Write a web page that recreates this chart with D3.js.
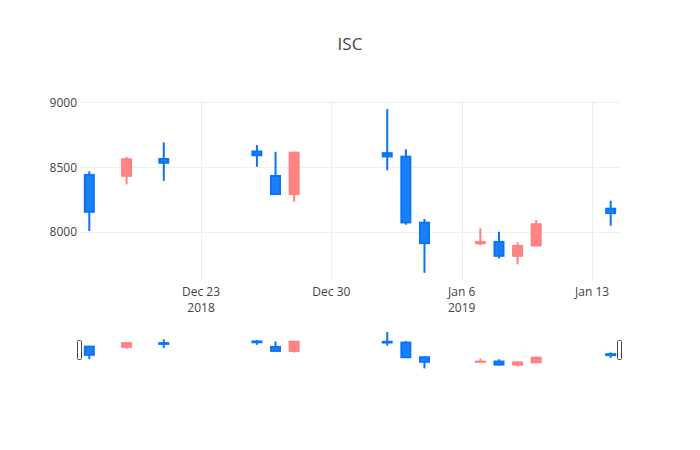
<!DOCTYPE html>
<html>
<head>
<meta charset="utf-8">
<script src="https://cdn.jsdelivr.net/npm/d3@7"></script>
<style>
  body { margin: 0; background: #fff; }
  svg { display: block; font-family: "Open Sans", sans-serif; }
</style>
</head>
<body>
<svg id="chart" width="700" height="450"></svg>
<script>
const title = "ISC";
const dates = ["2018-12-17","2018-12-19","2018-12-21","2018-12-26","2018-12-27","2018-12-28",
               "2019-01-02","2019-01-03","2019-01-04","2019-01-07","2019-01-08","2019-01-09",
               "2019-01-10","2019-01-14"];
const openV  = [8439, 8432, 8562, 8620, 8431, 8291, 8607, 8580, 8070, 7911, 7921, 7814, 7894, 8178];
const highV  = [8467, 8578, 8690, 8670, 8618, 8618, 8948, 8637, 8098, 8026, 8000, 7918, 8090, 8240];
const lowV   = [8005, 8366, 8393, 8502, 8284, 8232, 8474, 8054, 7683, 7895, 7794, 7748, 7892, 8046];
const closeV = [8154, 8560, 8533, 8591, 8291, 8611, 8582, 8072, 7912, 7920, 7814, 7890, 8058, 8144];
const yTicks = [8000, 8500, 9000];
const xTickDates = ["2018-12-23","2018-12-30","2019-01-06","2019-01-13"];
const xTickLine1 = ["Dec 23","Dec 30","Jan 6","Jan 13"];
const xTickLine2 = ["2018","","2019",""];
const xDomain = ["2018-12-16T12:00:00Z","2019-01-14T12:00:00Z"];
const yDomain = [7627, 9018];

const upColor = "#ff8080", upFill = "#ff8585";
const downColor = "#0a74f5", downFill = "#1a80fa";

const svg = d3.select("#chart");
const parse = s => new Date(s.length > 10 ? s : s + "T00:00:00Z");
const data = dates.map((d, i) => ({date: parse(d), o: openV[i], h: highV[i], l: lowV[i], c: closeV[i]}));

const x = d3.scaleUtc().domain(xDomain.map(parse)).range([80, 620]);
const y = d3.scaleLinear().domain(yDomain).range([280, 100]);
const ys = d3.scaleLinear().domain(yDomain).range([370, 330]);

// title
svg.append("text").attr("x", 350).attr("y", 50).attr("text-anchor", "middle")
  .attr("font-size", 17).attr("fill", "#444").text(title);

// gridlines
const g = svg.append("g");
g.selectAll(".yg").data(yTicks).join("line")
  .attr("x1", 80).attr("x2", 620)
  .attr("y1", d => Math.round(y(d)) + 0.5).attr("y2", d => Math.round(y(d)) + 0.5)
  .attr("stroke", "#eee").attr("stroke-width", 1);
g.selectAll(".xg").data(xTickDates).join("line")
  .attr("x1", d => Math.round(x(parse(d))) + 0.5).attr("x2", d => Math.round(x(parse(d))) + 0.5)
  .attr("y1", 100).attr("y2", 280)
  .attr("stroke", "#eee").attr("stroke-width", 1);

// y tick labels
svg.selectAll(".yl").data(yTicks).join("text")
  .attr("x", 77).attr("y", d => y(d) + 4.5).attr("text-anchor", "end")
  .attr("font-size", 12).attr("fill", "#444").text(d => d);

// x tick labels
const xl = svg.selectAll(".xl").data(xTickDates).join("text")
  .attr("x", d => x(parse(d))).attr("y", 296).attr("text-anchor", "middle")
  .attr("font-size", 12).attr("fill", "#444");
xl.append("tspan").attr("x", d => x(parse(d))).text((d, i) => xTickLine1[i]);
xl.append("tspan").attr("x", d => x(parse(d))).attr("dy", 15.5).text((d, i) => xTickLine2[i]);

function drawCandles(parent, ysc) {
  const halfW = 4.5;
  const c = parent.selectAll("g.candle").data(data).join("g").attr("class", "candle");
  c.each(function(d) {
    const sel = d3.select(this);
    const up = d.c > d.o;
    const col = up ? upColor : downColor;
    const fill = up ? upFill : downFill;
    const cx = x(d.date);
    const top = ysc(Math.max(d.o, d.c)), bot = ysc(Math.min(d.o, d.c));
    sel.append("line").attr("x1", cx).attr("x2", cx).attr("y1", ysc(d.h)).attr("y2", top)
      .attr("stroke", col).attr("stroke-width", 2);
    sel.append("line").attr("x1", cx).attr("x2", cx).attr("y1", bot).attr("y2", ysc(d.l))
      .attr("stroke", col).attr("stroke-width", 2);
    sel.append("rect").attr("x", cx - halfW).attr("width", halfW * 2)
      .attr("y", top).attr("height", Math.max(0.1, bot - top))
      .attr("fill", fill).attr("stroke", col).attr("stroke-width", 2);
  });
}

drawCandles(svg.append("g"), y);

// range slider
const slider = svg.append("g");
slider.append("rect").attr("x", 80).attr("y", 330).attr("width", 540).attr("height", 40).attr("fill", "#fff");
drawCandles(slider.append("g"), ys);
[80, 620].forEach(px => {
  slider.append("rect").attr("x", px - 2.5).attr("y", 340.5).attr("width", 4).attr("height", 19)
    .attr("rx", 1).attr("fill", "#fff").attr("stroke", "#444").attr("stroke-width", 1);
});
</script>
</body>
</html>
